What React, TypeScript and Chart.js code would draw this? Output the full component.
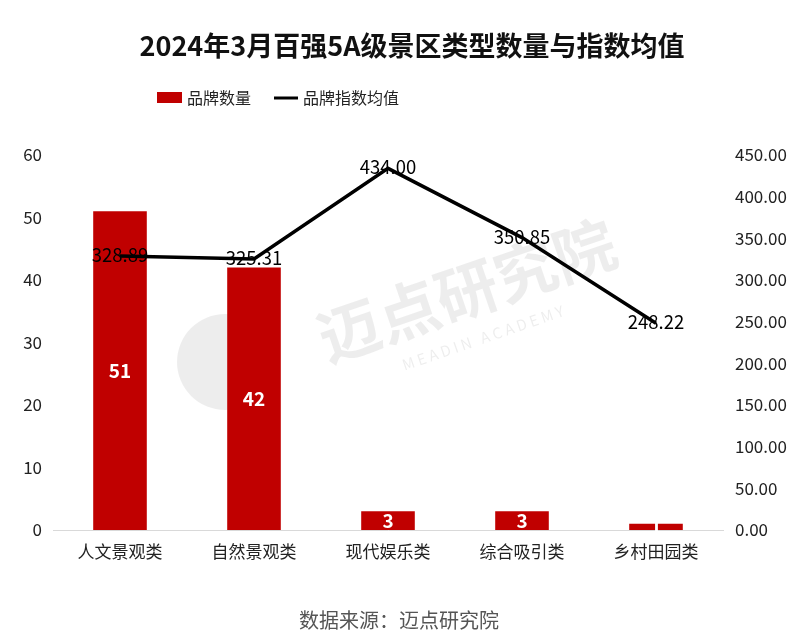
import React, { useEffect, useRef } from "react";
import { Chart, registerables } from "chart.js";

Chart.register(...registerables);

const categories = ["人文景观类", "自然景观类", "现代娱乐类", "综合吸引类", "乡村田园类"];
const brandCounts = [51, 42, 3, 3, 1];
const indexMeans = [328.89, 325.31, 434.0, 350.85, 248.22];
const titleText = "2024年3月百强5A级景区类型数量与指数均值";
const legendLabels = ["品牌数量", "品牌指数均值"];
const sourceText = "数据来源：迈点研究院";

const FONT = '"Noto Sans CJK SC", "Noto Sans", sans-serif';
const RED = "#c00000";

const overlayPlugin = {
  id: "overlay",
  beforeDatasetsDraw(chart: any) {
    const ctx = chart.ctx;
    ctx.save();
    // watermark
    ctx.globalAlpha = 0.07;
    ctx.fillStyle = "#000";
    ctx.beginPath();
    ctx.arc(225, 362, 48, 0, Math.PI * 2);
    ctx.fill();
    ctx.translate(470, 300);
    ctx.rotate(-0.33);
    ctx.font = `bold 62px ${FONT}`;
    ctx.textAlign = "center";
    ctx.textBaseline = "middle";
    ctx.fillText("迈点研究院", 0, -10);
    ctx.font = `15px ${FONT}`;
    ctx.fillText("M E A D I N   A C A D E M Y", 0, 40);
    ctx.restore();
  },
  afterDraw(chart: any) {
    const ctx = chart.ctx;
    ctx.save();
    // title
    ctx.fillStyle = "#111";
    ctx.font = `bold 27px ${FONT}`;
    ctx.textAlign = "center";
    ctx.textBaseline = "middle";
    ctx.fillText(titleText, 412, 46);
    // legend
    ctx.font = `16px ${FONT}`;
    ctx.textAlign = "left";
    ctx.fillStyle = RED;
    ctx.fillRect(157, 92, 25, 11);
    ctx.fillStyle = "#222";
    ctx.fillText(legendLabels[0], 187, 98);
    ctx.strokeStyle = "#000";
    ctx.lineWidth = 3;
    ctx.beginPath();
    ctx.moveTo(274, 98);
    ctx.lineTo(298, 98);
    ctx.stroke();
    ctx.fillText(legendLabels[1], 303, 98);
    // bar labels
    const barMeta = chart.getDatasetMeta(0);
    ctx.font = `bold 19px ${FONT}`;
    ctx.textAlign = "center";
    ctx.fillStyle = "#fff";
    barMeta.data.forEach((el: any, i: number) => {
      const y = (el.y + el.base) / 2;
      ctx.fillText(String(brandCounts[i]), el.x, y);
    });
    // line labels
    const lineMeta = chart.getDatasetMeta(1);
    ctx.font = `18.5px ${FONT}`;
    ctx.fillStyle = "#000";
    lineMeta.data.forEach((el: any, i: number) => {
      ctx.fillText(indexMeans[i].toFixed(2), el.x, el.y - 1);
    });
    // source
    ctx.font = `20px ${FONT}`;
    ctx.fillStyle = "#555";
    ctx.fillText(sourceText, 399, 620);
    ctx.restore();
  },
};

export default function App() {
  const ref = useRef<HTMLCanvasElement>(null);
  useEffect(() => {
    document.body.style.margin = "0";
    const chart = new Chart(ref.current!, {
      type: "bar",
      data: {
        labels: categories,
        datasets: [
          {
            type: "bar",
            label: legendLabels[0],
            data: brandCounts,
            backgroundColor: RED,
            yAxisID: "y",
            categoryPercentage: 1,
            barPercentage: 0.4,
            order: 2,
          },
          {
            type: "line",
            label: legendLabels[1],
            data: indexMeans,
            borderColor: "#000",
            borderWidth: 3.5,
            pointRadius: 0,
            yAxisID: "y1",
            order: 1,
          } as any,
        ],
      },
      options: {
        animation: false,
        responsive: false,
        layout: { padding: { top: 155, bottom: 0, left: 0, right: 0 } },
        plugins: { legend: { display: false }, title: { display: false }, tooltip: { enabled: false } },
        scales: {
          x: {
            grid: { display: false, drawTicks: false },
            border: { display: true, color: "#d9d9d9", width: 1 },
            ticks: { color: "#222", font: { family: FONT, size: 17 }, padding: 11 },
            afterFit: (s: any) => { s.height = 107; },
          },
          y: {
            position: "left",
            min: 0,
            max: 60,
            grid: { display: false, drawTicks: false },
            border: { display: false },
            ticks: { stepSize: 10, color: "#222", font: { family: FONT, size: 17 }, padding: 11 },
            afterFit: (s: any) => { s.width = 53; },
          },
          y1: {
            position: "right",
            min: 0,
            max: 450,
            grid: { display: false, drawTicks: false },
            border: { display: false },
            ticks: {
              stepSize: 50,
              color: "#222",
              font: { family: FONT, size: 17 },
              padding: 12,
              callback: (v: any) => Number(v).toFixed(2),
            },
            afterFit: (s: any) => { s.width = 77; },
          },
        },
      },
      plugins: [overlayPlugin],
    });
    return () => chart.destroy();
  }, []);
  return (
    <div style={{ position: "absolute", left: 0, top: 0, width: 800, height: 637, background: "#fff" }}>
      <canvas ref={ref} width={800} height={637} />
    </div>
  );
}
